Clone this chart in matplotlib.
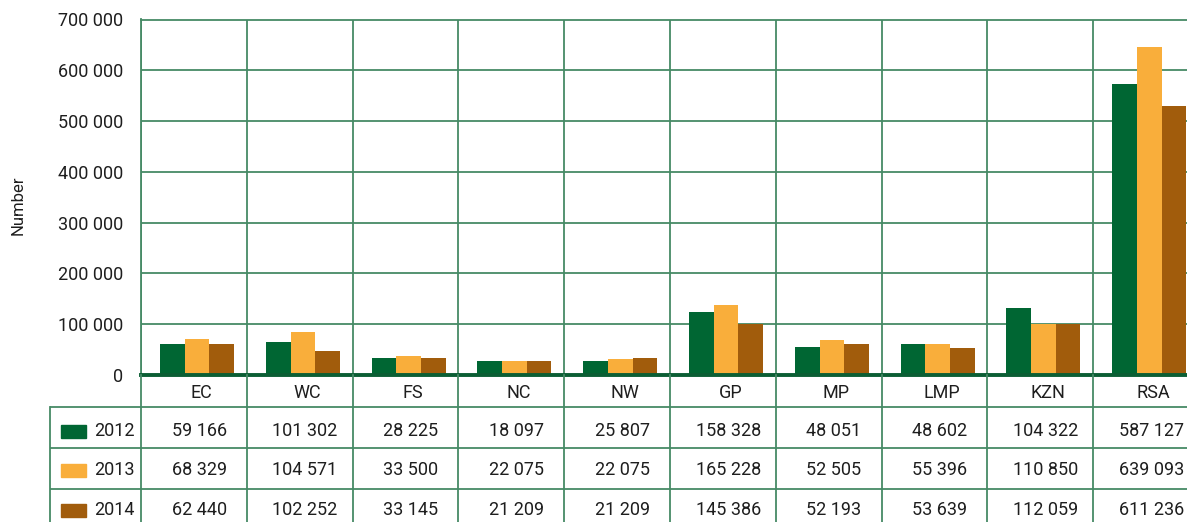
import matplotlib.pyplot as plt
from matplotlib.patches import Rectangle
import numpy as np

plt.rcParams.update({
    'font.family': ['Roboto', 'DejaVu Sans'],
    'font.size': 13,
})

# ── Data ────────────────────────────────────────────────────────────
regions = ['EC', 'WC', 'FS', 'NC', 'NW', 'GP', 'MP', 'LMP', 'KZN', 'RSA']
years = ['2012', '2013', '2014']

# bar heights as drawn in the chart
bars_2012 = [61200, 65000, 34400, 26800, 26800, 124000, 55400, 61200, 132200, 572500]
bars_2013 = [70700, 84100, 38200, 26800, 30600, 138400, 68800, 61200, 100000, 645200]
bars_2014 = [61200, 47800, 34400, 26800, 34400, 100000, 61200, 53500, 100000, 529000]

# values printed in the data table
table_2012 = [59166, 101302, 28225, 18097, 25807, 158328, 48051, 48602, 104322, 587127]
table_2013 = [68329, 104571, 33500, 22075, 22075, 165228, 52505, 55396, 110850, 639093]
table_2014 = [62440, 102252, 33145, 21209, 21209, 145386, 52193, 53639, 112059, 611236]

C = {
    '2012': '#006633',
    '2013': '#F9AE3B',
    '2014': '#A15C0C',
    'grid': '#468A66',
    'axis': '#0B5E34',
    'text': '#1E1E1E',
}

def fmt(v):
    return f'{v:,}'.replace(',', ' ')

W, H = 1187, 522
fig = plt.figure(figsize=(W / 100, H / 100), dpi=100)

def fx(px):
    return px / W

def fy(py):
    return 1 - py / H

# ── Bar chart ──────────────────────────────────────────────────────
ax = fig.add_axes([fx(141), fy(375), fx(1199) - fx(141), fy(19.5) - fy(375)])
x = np.arange(len(regions))
bw = 0.233
shift = 0.03
for k, (yr, vals) in enumerate(zip(years, [bars_2012, bars_2013, bars_2014])):
    ax.bar(x + shift + (k - 1) * bw, vals, width=bw, color=C[yr], zorder=3)

ax.set_xlim(-0.5, len(regions) - 0.5)
ax.set_ylim(0, 700000)
yt = np.arange(0, 700001, 100000)
ax.set_yticks(yt)
ax.set_yticklabels([fmt(v) for v in yt], color=C['text'], fontsize=13)
ax.set_xticks([])
ax.tick_params(axis='y', length=0, pad=13)
ax.yaxis.grid(True, color=C['grid'], lw=1.3, zorder=1)
for b in np.arange(-0.5, len(regions), 1.0):
    ax.axvline(b, color=C['grid'], lw=1.3, zorder=1)
for s in ['top', 'left']:
    ax.spines[s].set_color(C['grid'])
    ax.spines[s].set_linewidth(1.3)
ax.spines['right'].set_visible(False)
ax.spines['bottom'].set_color(C['axis'])
ax.spines['bottom'].set_linewidth(2.8)
ax.spines['bottom'].set_zorder(4)

fig.text(fx(18), fy(205), 'Number', rotation=90, ha='center', va='center',
         fontsize=12, color=C['text'])

# ── Data table ─────────────────────────────────────────────────────
left_edge = -0.5 - (141 - 50) / 105.8
tax = fig.add_axes([fx(50), 0, fx(1199) - fx(50), fy(375)])
tax.set_xlim(left_edge, len(regions) - 0.5)
tax.set_ylim(522, 375)
tax.axis('off')

for b in np.arange(-0.5, len(regions), 1.0):
    tax.plot([b, b], [375, 530], color=C['grid'], lw=1.3, clip_on=False)
tax.plot([left_edge, left_edge], [407, 530], color=C['grid'], lw=1.3, clip_on=False)
for hy in [407, 448, 489]:
    tax.plot([left_edge, len(regions) - 0.5], [hy, hy], color=C['grid'], lw=1.3)

for i, r in enumerate(regions):
    tax.text(i + 0.07, 393, r, ha='center', va='center', color=C['text'], fontsize=13)

row_y = [431, 470, 510]
for yr, vals, ry in zip(years, [table_2012, table_2013, table_2014], row_y):
    tax.add_patch(Rectangle((-1.256, ry - 6), 0.236, 12.5, color=C[yr], clip_on=False))
    tax.text(-0.944, ry, yr, ha='left', va='center', color=C['text'], fontsize=13)
    for i, v in enumerate(vals):
        tax.text(i + 0.05, ry, fmt(v), ha='center', va='center', color=C['text'],
                 fontsize=13)

fig.savefig('out.png', dpi=100)
